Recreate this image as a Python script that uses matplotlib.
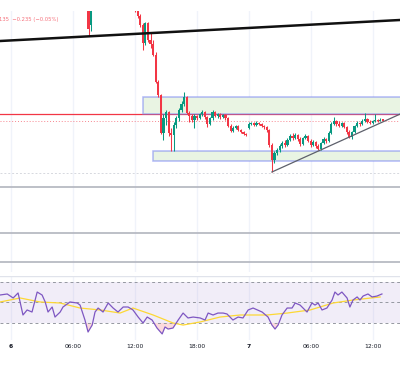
import numpy as np
import matplotlib
matplotlib.use("Agg")
import matplotlib.pyplot as plt
from matplotlib.patches import Rectangle

# candles (15 min bars, x = bar index)
bar_idx = [30, 31] + list(range(48, 145))
opens = [479.5, 477.5,
         479.5, 478.9, 478.4, 477.5, 475.7, 477.7, 476.0, 475.6, 474.5, 471.8,
         470.5, 466.7, 468.2, 468.8, 466.7, 466.5, 467.5, 468.2, 469.0, 469.6,
         470.3, 468.7, 468.4, 468.0, 468.4, 468.2, 468.6, 468.8, 468.3, 467.6,
         468.2, 468.8, 468.4, 468.6, 468.3, 468.5, 468.2, 467.4, 466.9, 467.2,
         467.4, 467.0, 466.8, 466.6, 467.2, 467.6, 467.7, 467.5, 467.7, 467.6,
         467.4, 467.3, 467.0, 465.5, 464.0, 464.7, 465.0, 465.4, 465.7, 465.5,
         466.0, 466.4, 466.2, 466.5, 466.1, 465.6, 466.2, 466.4, 465.9, 465.5,
         465.8, 465.4, 465.1, 465.7, 466.1, 465.9, 466.7, 467.6, 467.9, 467.6,
         467.4, 467.7, 467.3, 466.8, 466.3, 466.8, 467.4, 467.7, 467.6, 467.9,
         468.1, 467.8, 467.7, 467.9, 468.0, 467.9, 468.0]
closes = [477.1, 479.2,
          478.9, 478.4, 477.5, 475.7, 477.7, 476.0, 475.6, 474.5, 471.8, 470.5,
          466.7, 468.2, 468.8, 466.7, 466.5, 467.5, 468.2, 469.0, 469.6, 470.3,
          468.7, 468.4, 468.0, 468.4, 468.2, 468.6, 468.8, 468.3, 467.6, 468.2,
          468.8, 468.4, 468.6, 468.3, 468.5, 468.2, 467.4, 466.9, 467.2, 467.4,
          467.0, 466.8, 466.6, 466.5, 467.6, 467.7, 467.5, 467.7, 467.6, 467.4,
          467.3, 467.0, 465.5, 464.0, 464.7, 465.0, 465.4, 465.7, 465.5, 466.0,
          466.4, 466.2, 466.5, 466.1, 465.6, 466.2, 466.4, 465.9, 465.5, 465.8,
          465.4, 465.1, 465.7, 466.1, 465.9, 466.7, 467.6, 467.9, 467.6, 467.4,
          467.7, 467.3, 466.8, 466.3, 466.8, 467.4, 467.7, 467.6, 467.9, 468.1,
          467.8, 467.7, 467.9, 468.0, 467.9, 468.0, 467.95]
highs = [480.0, 479.7,
         479.7, 479.0, 478.6, 477.7, 477.8, 477.8, 476.7, 476.0, 474.8, 472.0,
         470.6, 468.6, 469.0, 468.9, 467.2, 467.8, 468.4, 469.2, 469.9, 470.8,
         470.4, 468.9, 468.6, 468.6, 468.5, 468.7, 469.0, 468.9, 468.4, 468.3,
         469.0, 468.9, 468.7, 468.7, 468.6, 468.6, 468.3, 467.6, 467.4, 467.5,
         467.5, 467.1, 466.9, 466.7, 467.8, 467.8, 467.8, 467.9, 467.8, 467.7,
         467.5, 467.4, 467.1, 465.7, 464.9, 465.2, 465.6, 465.9, 466.0, 466.2,
         466.6, 466.7, 466.7, 466.6, 466.3, 466.3, 466.6, 466.5, 466.1, 466.0,
         465.9, 465.6, 465.8, 466.3, 466.2, 466.9, 467.8, 468.3, 468.0, 467.9,
         467.8, 467.8, 467.4, 467.0, 466.9, 467.5, 467.9, 467.8, 468.1, 468.7,
         468.2, 468.0, 468.0, 468.6, 468.1, 468.2, 468.1]
lows = [476.4, 476.9,
        478.8, 478.2, 477.3, 475.0, 475.5, 475.8, 475.2, 474.4, 471.7, 470.3,
        466.6, 466.0, 467.5, 466.4, 464.9, 464.9, 467.2, 467.9, 468.8, 469.4,
        468.6, 467.8, 467.8, 467.2, 468.0, 468.1, 468.4, 468.1, 467.3, 467.5,
        468.0, 468.3, 468.2, 468.1, 468.2, 468.0, 467.3, 466.8, 466.8, 467.1,
        466.9, 466.7, 466.5, 466.4, 467.1, 467.5, 467.4, 467.4, 467.5, 467.3,
        467.1, 466.8, 465.3, 462.8, 463.7, 464.5, 464.8, 465.2, 465.3, 465.4,
        465.9, 466.0, 466.1, 465.9, 465.4, 465.5, 466.1, 465.8, 465.3, 465.4,
        465.2, 465.0, 465.0, 465.6, 465.7, 465.8, 466.6, 467.5, 467.4, 467.3,
        467.3, 467.2, 466.6, 466.2, 466.1, 466.7, 467.3, 467.4, 467.5, 467.8,
        467.7, 467.6, 467.6, 467.8, 467.8, 467.9, 467.9]

# drawn levels / boxes
upper_box = (51, 468.6, 470.3)
lower_box = (55, 463.9, 464.9)
red_level = 468.6
gray_levels = [461.3, 456.7, 453.8]
grid_level = 462.75
top_trend = [(-4.3, 475.9), (150.6, 478.0)]
rise_trend = [(101, 462.8), (155, 469.1)]

# RSI
rsi_x = [-4.3, -1.5, 0.8, 2.7, 4.6, 6.2, 8.1, 10.1, 12, 13.2, 14.3, 15.9, 17, 19, 20.1,
         22.8, 25.6, 26.7, 28.6, 29.8, 31.4, 32.5, 33.7, 35.6, 37.6, 39.5, 41.4, 43.4,
         45.3, 47.2, 49.2, 51.1, 52.7, 54.6, 56.5, 58.5, 59.6, 60.8, 62.7, 64.7, 66.6,
         68.5, 70.5, 73.2, 75.1, 76.3, 78.2, 80.1, 82.1, 83.6, 85.9, 87.9, 89.8, 91.8,
         93.7, 97.2, 99.5, 101, 102.2, 103.4, 104.9, 106.9, 108.8, 110, 111.9, 114.6,
         116.5, 117.7, 118.9, 120.4, 122.3, 124.3, 125.4, 126.6, 128.1, 130.1, 131.2,
         132.4, 134, 135.1, 136.3, 138.2, 139.8, 141.7, 143.6]
rsi_val = [57.3, 58.3, 54.4, 59.3, 37.8, 42.7, 40.7, 60.2, 57.3, 50.5, 40.7, 45.6, 35.8, 40.7, 45.6,
           50.5, 49.5, 47.5, 32.9, 21.2, 28.0, 40.7, 44.6, 40.7, 49.5, 44.6, 40.7, 45.6,
           45.6, 42.7, 35.8, 30.0, 35.8, 32.9, 25.1, 19.3, 26.1, 24.1, 25.1, 32.9, 39.7,
           34.9, 35.8, 34.9, 32.9, 39.7, 37.8, 39.7, 39.7, 38.8, 32.9, 35.8, 34.9, 42.7,
           44.6, 40.7, 35.8, 28.0, 24.1, 28.0, 37.8, 44.6, 44.6, 49.5, 47.5, 40.7,
           49.5, 47.5, 49.5, 42.7, 44.6, 52.4, 60.2, 57.3, 60.2, 54.4, 45.6,
           52.4, 55.4, 52.4, 56.3, 58.3, 55.4, 56.3, 58.3]
ma_x = [-4.3, 3.5, 11.2, 19, 26.7, 34.5, 42.2, 47.2, 55, 62.7, 66.6, 73.2, 80.9, 88.7,
        99.1, 106.9, 115.8, 124.7, 132.4, 142.9]
ma_val = [50.5, 54.4, 50.5, 49.5, 44.6, 42.7, 39.7, 44.6, 37.8, 30.0, 28.0, 31.0, 35.8, 37.8,
          37.8, 39.7, 42.7, 49.5, 52.4, 55.4]

tick_pos = [0, 24, 48, 72, 92, 116, 140]
tick_lab = ["6", "06:00", "12:00", "18:00", "7", "06:00", "12:00"]

up_col = "#089981"
dn_col = "#f23645"
xlim = (-4.3, 150.6)

fig = plt.figure(figsize=(4, 3.7), dpi=100)
ax = fig.add_axes([0, 1 - 272/370, 1, 261/370])
ax2 = fig.add_axes([0, 1 - 340/370, 1, 64/370])

for a in (ax, ax2):
    a.set_xlim(*xlim)
    for s in a.spines.values():
        s.set_visible(False)
    a.tick_params(left=False, labelleft=False, bottom=False, labelbottom=False)
    for t in tick_pos:
        a.axvline(t, color="#f0f3fa", lw=1, zorder=0)

ax.set_ylim(452.8, 478.9)

# levels
ax.axhline(grid_level, color="#d6d8de", lw=0.7, ls=(0, (2, 2)), zorder=0)
for g in gray_levels:
    ax.axhline(g, color="#b2b5be", lw=1.2, zorder=1)
ax.axhline(red_level, color=dn_col, lw=0.9, zorder=1)
for bx, lo, hi in (upper_box, lower_box):
    ax.add_patch(Rectangle((bx, lo), 200, hi - lo, facecolor="#e9f4e3",
                           edgecolor=(0.45, 0.5, 0.95, 0.55), lw=1.1, zorder=2))

ax.plot([p[0] for p in top_trend], [p[1] for p in top_trend], color="#111111", lw=1.8, zorder=4)
ax.plot([p[0] for p in rise_trend], [p[1] for p in rise_trend], color="#5d606b", lw=0.9, zorder=4)

# candles
bar_idx = np.array(bar_idx)
opens = np.array(opens); closes = np.array(closes)
highs = np.array(highs); lows = np.array(lows)
cols = np.where(closes >= opens, up_col, dn_col)
ax.vlines(bar_idx, lows, highs, colors=cols, lw=0.75, zorder=3)
ax.bar(bar_idx, np.maximum(np.abs(closes - opens), 0.1), 0.85,
       bottom=np.minimum(opens, closes), color=cols, lw=0, zorder=3)
ax.axhline(closes[-1], color=dn_col, lw=0.7, ls=(0, (1, 2)), alpha=0.6, zorder=1)

# RSI pane
ax2.set_ylim(13.4, 75.85)
ax2.axhspan(30, 70, color="#7e57c2", alpha=0.1, lw=0)
for lv in (70, 50, 30):
    ax2.axhline(lv, color="#9598a1", lw=0.7, ls=(0, (3, 3)))
ax2.axhline(75.85, color="#e0e3eb", lw=1)
rsi_x = np.array(rsi_x); rsi_val = np.array(rsi_val)
ax2.fill_between(rsi_x, rsi_val, 30, where=rsi_val < 30, interpolate=True,
                 color="#f23645", alpha=0.18, lw=0)
ax2.plot(ma_x, ma_val, color="#fdd835", lw=0.9)
ax2.plot(rsi_x, rsi_val, color="#7e57c2", lw=0.9)

ax2.tick_params(labelbottom=True, length=0, pad=3, labelsize=4.3, labelcolor="#131722")
ax2.set_xticks(tick_pos)
ax2.set_xticklabels(tick_lab)
for i, lbl in enumerate(ax2.get_xticklabels()):
    if tick_lab[i] in ("6", "7"):
        lbl.set_fontweight("bold")

fig.text(-0.003, 1 - 19/370, "135  \u22120.235 (\u22120.05%)", fontsize=3.8,
         color=dn_col, alpha=0.7, va="center", ha="left")

fig.savefig("out.png", dpi=100)
